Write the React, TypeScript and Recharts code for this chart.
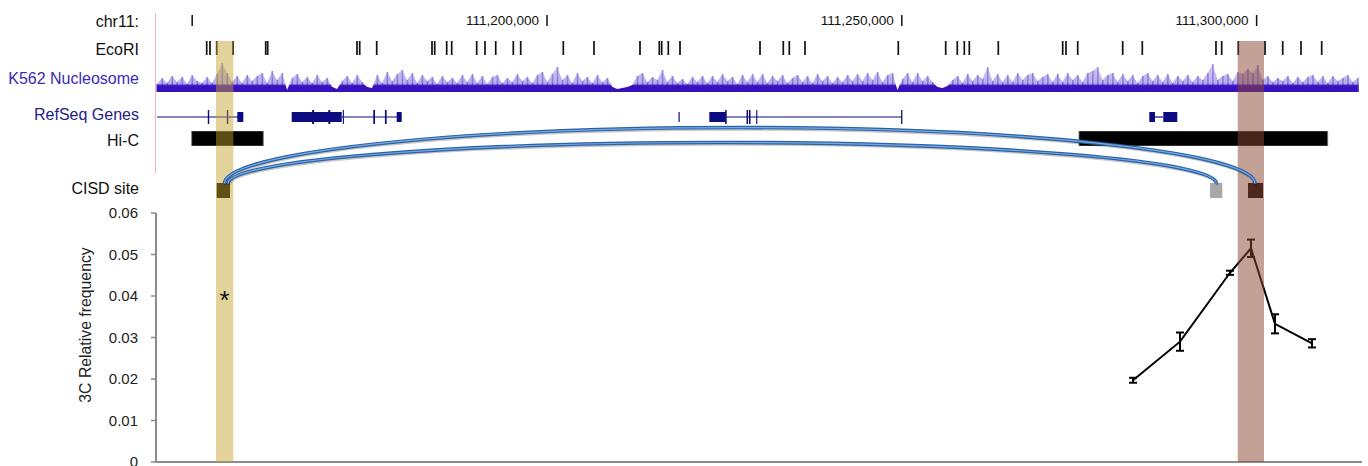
import React from "react";
import {
  ComposedChart,
  Area,
  Bar,
  Line,
  XAxis,
  YAxis,
  ErrorBar,
  ReferenceLine,
  ReferenceArea,
  ReferenceDot,
} from "recharts";

// genomic window shown (chr11)
const G0 = 111144900;
const G1 = 111314850;

const RULER_TICKS = [111150000, 111200000, 111250000, 111300000];
const RULER_LABELS = ["", "111,200,000", "111,250,000", "111,300,000"];

const ECORI_SITES = [
  111152045, 111152510, 111153454, 111155751, 111160359, 111160641, 111173225, 111173605,
  111176001, 111183794, 111184174, 111185865, 111186570, 111190093, 111191263, 111192771,
  111195251, 111196294, 111202297, 111206623, 111213105, 111215825, 111216163, 111217093,
  111218742, 111230016, 111233299, 111234145, 111236357, 111249504, 111256185, 111257819,
  111258806, 111259510, 111263597, 111272672, 111273137, 111274786, 111281127, 111283889,
  111294275, 111295078, 111297418, 111301180, 111303675, 111306253, 111309170,
];

// K562 nucleosome signal, one value per bin
const NUC_START = 111145040;
const NUC_BIN = 705;
const NUC_SIGNAL = [
  8, 14, 9, 16, 10, 15, 8, 17, 11, 9,
  15, 9, 18, 29, 19, 10, 16, 9, 17, 11,
  16, 19, 9, 21, 12, 19, 2, 14, 18, 10,
  15, 9, 17, 10, 14, 5, 3, 11, 16, 9,
  17, 10, 5, 4, 17, 9, 20, 11, 18, 22,
  12, 19, 9, 17, 11, 15, 8, 16, 10, 14,
  9, 17, 10, 18, 9, 16, 8, 15, 17, 9,
  14, 10, 18, 11, 15, 9, 17, 20, 10, 18,
  25, 12, 17, 9, 19, 11, 15, 9, 17, 10,
  14, 5, 3, 4, 5, 7, 16, 19, 10, 15,
  12, 22, 10, 16, 9, 13, 8, 15, 10, 16,
  9, 16, 10, 18, 11, 15, 8, 17, 10, 18,
  10, 18, 9, 16, 11, 17, 9, 14, 17, 10,
  16, 9, 18, 11, 16, 9, 15, 10, 17, 11,
  18, 11, 19, 12, 20, 10, 17, 19, 2, 13,
  19, 10, 19, 11, 16, 10, 5, 4, 6, 12,
  16, 9, 18, 11, 17, 13, 25, 11, 18, 10,
  17, 10, 19, 12, 17, 19, 11, 15, 18, 10,
  18, 10, 19, 12, 17, 10, 19, 21, 25, 12,
  17, 19, 10, 18, 11, 17, 9, 16, 19, 11,
  17, 10, 18, 9, 16, 11, 17, 10, 16, 12,
  19, 28, 12, 16, 18, 11, 20, 18, 23, 19,
  27, 12, 16, 10, 14, 11, 16, 9, 15, 10,
  15, 17, 10, 16, 9, 16, 11, 14, 17, 10, 14,
];

// RefSeq genes
const GENE_INTRONS = [
  [111145040, 111157202],
  [111171069, 111179524],
  [111225182, 111249984],
  [111285679, 111286849],
];
const GENE_EXONS: [number, number, string][] = [
  [111152200, 111152400, "exon"],
  [111154880, 111155080, "exon"],
  [111156357, 111157202, "cds"],
  [111164023, 111171069, "cds"],
  [111166900, 111167180, "exon"],
  [111169180, 111169460, "exon"],
  [111171220, 111171380, "exon"],
  [111175520, 111175760, "exon"],
  [111177160, 111177400, "exon"],
  [111178819, 111179524, "cds"],
  [111218530, 111218700, "cds"],
  [111222871, 111225182, "cds"],
  [111225100, 111225320, "exon"],
  [111228120, 111228330, "exon"],
  [111228460, 111228680, "exon"],
  [111229480, 111229640, "exon"],
  [111249900, 111250080, "exon"],
  [111284876, 111285679, "cds"],
  [111286849, 111288822, "cds"],
];

const HIC_DOMAINS = [
  [111149931, 111160021],
  [111274969, 111310016],
];

const CISD_SITES = [
  [111153454, 111155328],
  [111293430, 111295163],
  [111298785, 111300898],
];
const CISD_KIND = ["bait", "control", "target"];

const CISD_LINKS = [
  [111154553, 111299771],
  [111155046, 111294346],
];

const HIGHLIGHTS = [
  [111153355, 111155793],
  [111297333, 111301039],
];

// 3C
const C3_POS = [111282579, 111289202, 111296248, 111299207, 111302589, 111307804];
const C3_FREQ = [0.0197, 0.029, 0.0456, 0.0515, 0.0333, 0.0286];
const C3_ERR = [0.0006, 0.0022, 0.0005, 0.0021, 0.0023, 0.001];
const Y_TICKS = [0, 0.01, 0.02, 0.03, 0.04, 0.05, 0.06];
const Y_TICK_LABELS = ["0", "0.01", "0.02", "0.03", "0.04", "0.05", "0.06"];
const STAR_POS = 111154574;
const STAR_Y = 0.039;

const W = 1368;
const FONT = '"Liberation Sans", Arial, Helvetica, sans-serif';
const TRACK_MARGIN = { left: 156, right: 6, top: 0, bottom: 0 };
const BAND_FILL = ["rgb(196,162,40)", "rgb(140,70,50)"];
const BAND_OPACITY = [0.47, 0.51];
const ARC_LIFT = [56, 41];
const GENE_COLOR = "#0c0c80";

const nucRows = NUC_SIGNAL.map((v, i) => ({ pos: NUC_START + i * NUC_BIN, v }));
const c3Rows = C3_POS.map((pos, i) => ({ pos, freq: C3_FREQ[i], err: C3_ERR[i] }));

type TrackProps = {
  top: number
  height: number
  yMax: number
  data?: any[]
  children?: React.ReactNode
}

function Track({ top, height, yMax, data, children }: TrackProps) {
  return (
    <div style={{ position: "absolute", left: 0, top, width: W, height }}>
      <ComposedChart width={W} height={height} data={data} margin={TRACK_MARGIN}>
        <XAxis type="number" dataKey="pos" domain={[G0, G1]} allowDataOverflow hide />
        <YAxis type="number" domain={[0, yMax]} allowDataOverflow hide />
        {children}
      </ComposedChart>
    </div>
  )
}

function arcShape(lift: number) {
  return (p: any) => {
    const { x1, y1, x2, y2 } = p
    const d = `M${x1},${y1} A${(x2 - x1) / 2},${lift} 0 0 1 ${x2},${y2}`
    return (
      <g>
        <path d={d} transform="translate(0.8,1.7)" fill="none" stroke="#000" strokeOpacity={0.22} strokeWidth={3} />
        <path d={d} fill="none" stroke="#2a62a8" strokeWidth={3.6} />
        <path d={d} fill="none" stroke="#78aade" strokeWidth={1.2} />
      </g>
    )
  }
}

const trackLabel = { fontFamily: FONT, fontSize: 16, textAnchor: "end" as const }

export default function App() {
  return (
    <div style={{ position: "relative", width: W, height: 466, background: "#fff", fontFamily: FONT }}>
      <style>{`body{margin:0}`}</style>

      <svg width={150} height={466} style={{ position: "absolute", left: 0, top: 0 }}>
        <text x={139} y={27} fill="#111" {...trackLabel}>chr11:</text>
        <text x={139} y={55} fill="#111" {...trackLabel}>EcoRI</text>
        <text x={139} y={84} fill="#3a2bb8" {...trackLabel}>K562 Nucleosome</text>
        <text x={139} y={119.5} fill="#222288" {...trackLabel}>RefSeq Genes</text>
        <text x={139} y={145.5} fill="#111" {...trackLabel}>Hi-C</text>
        <text x={139} y={194} fill="#111" {...trackLabel}>CISD site</text>
        <text
          transform="translate(85,325) rotate(-90)"
          textAnchor="middle"
          dominantBaseline="central"
          fontFamily={FONT}
          fontSize={15.8}
          fill="#222"
        >
          3C Relative frequency
        </text>
      </svg>

      <div style={{ position: "absolute", left: 155, top: 13, width: 1, height: 160, background: "#f4b4b4" }} />

      {/* ruler */}
      <Track top={6} height={28} yMax={28}>
        {RULER_TICKS.map((t, i) => (
          <ReferenceLine
            key={t}
            segment={[{ x: t, y: 19 }, { x: t, y: 8 }]}
            stroke="#111"
            strokeWidth={1.5}
            label={
              RULER_LABELS[i]
                ? { value: RULER_LABELS[i], position: "left", offset: 8, fontSize: 13.5, fill: "#111", fontFamily: FONT }
                : undefined
            }
          />
        ))}
      </Track>

      {/* EcoRI */}
      <Track top={41} height={14} yMax={1}>
        {ECORI_SITES.map((s) => (
          <ReferenceLine key={s} x={s} stroke="#111" strokeWidth={1.7} />
        ))}
      </Track>

      {/* nucleosome */}
      <Track top={62} height={30} yMax={30} data={nucRows}>
        <defs>
          <linearGradient id="nucFill" gradientUnits="userSpaceOnUse" x1={0} y1={0} x2={0} y2={30}>
            <stop offset="0%" stopColor="#d8d1f5" />
            <stop offset="72%" stopColor="#b8acec" />
            <stop offset="79%" stopColor="#3912c0" />
            <stop offset="100%" stopColor="#3410bc" />
          </linearGradient>
          <linearGradient id="nucSpike" gradientUnits="userSpaceOnUse" x1={0} y1={0} x2={0} y2={30}>
            <stop offset="0%" stopColor="#a392e2" />
            <stop offset="70%" stopColor="#8b76da" />
            <stop offset="79%" stopColor="#3912c0" />
            <stop offset="100%" stopColor="#3410bc" />
          </linearGradient>
        </defs>
        <Area
          type="linear"
          dataKey="v"
          stroke="none"
          fill="url(#nucFill)"
          fillOpacity={1}
          dot={false}
          activeDot={false}
          isAnimationActive={false}
        />
        <Bar dataKey="v" barSize={1.6} fill="url(#nucSpike)" isAnimationActive={false} />
      </Track>

      {/* genes */}
      <Track top={107} height={20} yMax={20}>
        {GENE_INTRONS.map(([a, b]) => (
          <ReferenceLine
            key={a}
            segment={[{ x: a, y: 10 }, { x: b, y: 10 }]}
            stroke={GENE_COLOR}
            strokeWidth={1.2}
          />
        ))}
        {GENE_EXONS.map(([a, b, kind]) => {
          const h = kind === "cds" ? 5 : 7
          return (
            <ReferenceArea
              key={a}
              x1={a}
              x2={b}
              y1={10 - h}
              y2={10 + h}
              fill={GENE_COLOR}
              fillOpacity={1}
              stroke="none"
            />
          )
        })}
      </Track>

      {/* Hi-C */}
      <Track top={130.5} height={15} yMax={1}>
        {HIC_DOMAINS.map(([a, b]) => (
          <ReferenceArea key={a} x1={a} x2={b} fill="#000" fillOpacity={1} stroke="#777" strokeWidth={0.8} />
        ))}
      </Track>

      {/* CISD sites */}
      <Track top={118} height={82} yMax={82}>
        {CISD_SITES.map(([a, b], i) => (
          <ReferenceArea
            key={a}
            x1={a}
            x2={b}
            y1={2}
            y2={17}
            fill={CISD_KIND[i] === "control" ? "#a9a9a9" : "#0c0806"}
            fillOpacity={1}
            stroke="none"
          />
        ))}
      </Track>

      {/* 3C profile */}
      <div style={{ position: "absolute", left: 0, top: 200, width: W, height: 266 }}>
        <ComposedChart width={W} height={266} data={c3Rows} margin={{ left: 0, right: 6, top: 13, bottom: 2 }}>
          <XAxis
            type="number"
            dataKey="pos"
            domain={[G0, G1]}
            allowDataOverflow
            height={2}
            tick={false}
            tickLine={false}
            axisLine={{ stroke: "#8c8c8c", strokeWidth: 2 }}
          />
          <YAxis
            type="number"
            domain={[0, 0.06]}
            ticks={Y_TICKS}
            interval={0}
            tickFormatter={(v: number) => Y_TICK_LABELS[Y_TICKS.indexOf(v)] ?? String(v)}
            width={156}
            tickSize={5}
            tickMargin={13}
            tick={{ fontSize: 15, fill: "#222", fontFamily: FONT }}
            tickLine={{ stroke: "#8c8c8c", strokeWidth: 1.5 }}
            axisLine={{ stroke: "#8c8c8c", strokeWidth: 2 }}
            allowDataOverflow
          />
          <Line
            type="linear"
            dataKey="freq"
            stroke="#000"
            strokeWidth={2}
            dot={false}
            activeDot={false}
            isAnimationActive={false}
          >
            <ErrorBar dataKey="err" width={4} strokeWidth={2} stroke="#000" isAnimationActive={false} />
          </Line>
        </ComposedChart>
      </div>

      {/* highlighted sites */}
      <Track top={41} height={421} yMax={1}>
        {HIGHLIGHTS.map(([a, b], i) => (
          <ReferenceArea
            key={a}
            x1={a}
            x2={b}
            fill={BAND_FILL[i]}
            fillOpacity={BAND_OPACITY[i]}
            stroke="none"
          />
        ))}
      </Track>

      {/* significance mark, same scale as the 3C plot */}
      <Track top={213} height={249} yMax={0.06}>
        <ReferenceDot
          x={STAR_POS}
          y={STAR_Y}
          r={1}
          fill="none"
          stroke="none"
          label={{ value: "*", position: "center", fontSize: 26, fill: "#111", fontFamily: FONT }}
        />
      </Track>

      {/* interaction arcs */}
      <Track top={118} height={82} yMax={82}>
        {CISD_LINKS.map(([a, b], i) => (
          <ReferenceLine
            key={a}
            segment={[{ x: a, y: 16.5 }, { x: b, y: 16.5 }]}
            shape={arcShape(ARC_LIFT[i])}
          />
        ))}
      </Track>
    </div>
  )
}
